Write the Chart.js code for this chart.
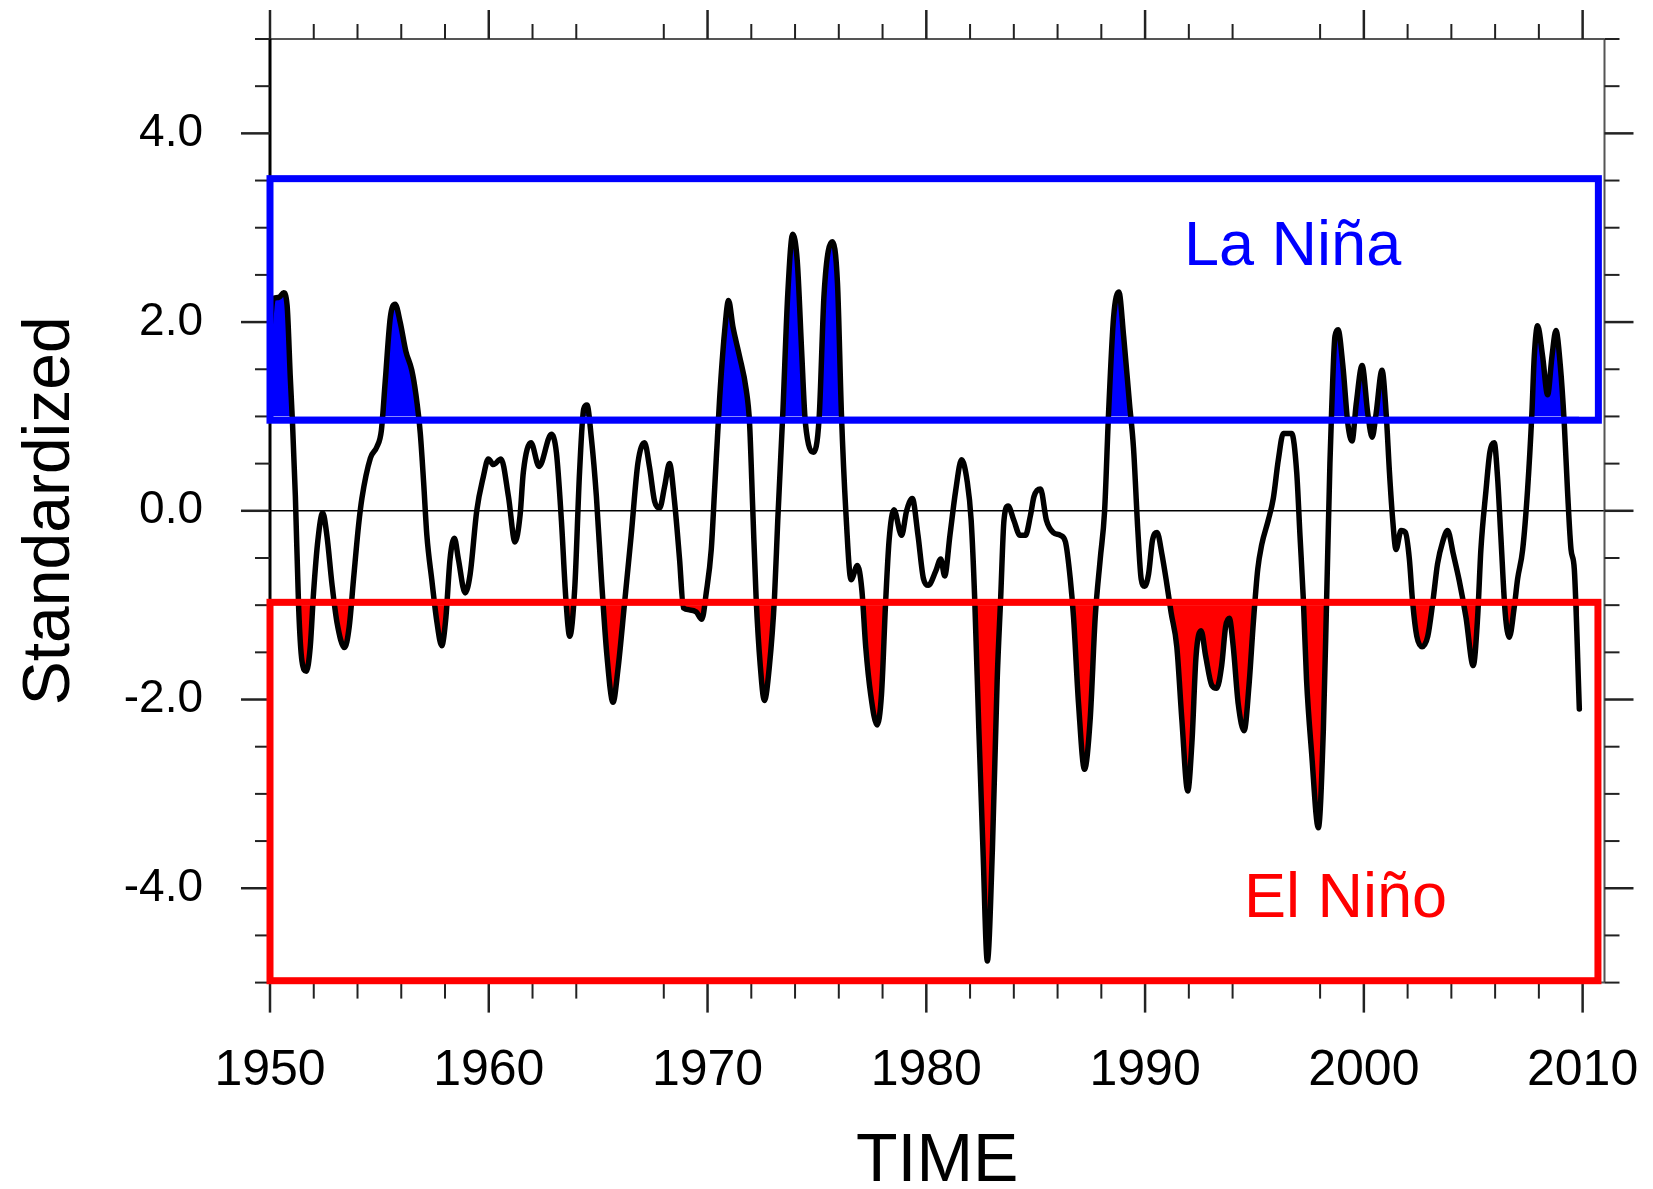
<!DOCTYPE html>
<html>
<head>
<meta charset="utf-8">
<script src="https://cdn.jsdelivr.net/npm/chart.js@4.4.1/dist/chart.umd.min.js"></script>
<style>
html, body { margin: 0; padding: 0; background: #fff; }
</style>
</head>
<body>
<canvas id="myChart" width="1653" height="1189"></canvas>
<script>
// standardized index (year, value)
var years = [
  1950.00, 1950.15, 1950.40, 1950.62, 1950.78, 1950.93, 1951.03, 1951.16, 1951.31, 1951.46,
  1951.66, 1951.84, 1951.99, 1952.19, 1952.41, 1952.60, 1952.83, 1953.06, 1953.41, 1953.62,
  1953.82, 1954.05, 1954.20, 1954.59, 1954.89, 1955.09, 1955.27, 1955.50, 1955.72, 1955.95,
  1956.21, 1956.48, 1956.67, 1956.87, 1957.02, 1957.17, 1957.40, 1957.63, 1957.85, 1958.04,
  1958.23, 1958.43, 1958.61, 1958.92, 1959.15, 1959.45, 1959.75, 1959.98, 1960.21, 1960.56,
  1960.90, 1961.20, 1961.43, 1961.58, 1961.93, 1962.30, 1962.86, 1963.09, 1963.32, 1963.52,
  1963.70, 1963.93, 1964.15, 1964.34, 1964.49, 1964.69, 1964.92, 1965.15, 1965.40, 1965.68,
  1965.90, 1966.21, 1966.51, 1966.82, 1967.12, 1967.35, 1967.58, 1967.81, 1968.04, 1968.26,
  1968.49, 1968.72, 1968.90, 1969.18, 1969.48, 1969.74, 1969.94, 1970.17, 1970.32, 1970.55,
  1970.78, 1970.96, 1971.16, 1971.46, 1971.77, 1971.92, 1972.07, 1972.22, 1972.41, 1972.60,
  1972.83, 1973.06, 1973.21, 1973.44, 1973.67, 1973.89, 1974.10, 1974.30, 1974.45, 1974.62,
  1974.84, 1975.10, 1975.33, 1975.70, 1975.94, 1976.12, 1976.32, 1976.56, 1976.85, 1977.05,
  1977.23, 1977.46, 1977.75, 1977.95, 1978.14, 1978.30, 1978.52, 1978.87, 1979.10, 1979.36,
  1979.62, 1979.87, 1980.09, 1980.43, 1980.66, 1980.84, 1981.08, 1981.34, 1981.61, 1981.87,
  1982.05, 1982.21, 1982.40, 1982.59, 1982.79, 1983.02, 1983.24, 1983.40, 1983.55, 1983.74,
  1984.00, 1984.28, 1984.53, 1984.76, 1984.92, 1985.22, 1985.49, 1985.80, 1986.13, 1986.36,
  1986.58, 1986.73, 1986.96, 1987.23, 1987.49, 1987.72, 1987.95, 1988.15, 1988.33, 1988.56,
  1988.80, 1989.02, 1989.29, 1989.47, 1989.67, 1989.82, 1989.98, 1990.16, 1990.34, 1990.55,
  1990.77, 1990.99, 1991.19, 1991.45, 1991.68, 1991.95, 1992.14, 1992.33, 1992.56, 1992.77,
  1993.05, 1993.27, 1993.50, 1993.68, 1993.85, 1994.03, 1994.26, 1994.53, 1994.75, 1994.95,
  1995.15, 1995.33, 1995.63, 1995.86, 1996.09, 1996.32, 1996.70, 1996.93, 1997.08, 1997.23,
  1997.38, 1997.61, 1997.92, 1998.15, 1998.30, 1998.45, 1998.53, 1998.68, 1998.82, 1999.04,
  1999.27, 1999.46, 1999.65, 1999.92, 2000.18, 2000.38, 2000.56, 2000.83, 2001.02, 2001.17,
  2001.32, 2001.47, 2001.70, 2001.90, 2002.08, 2002.23, 2002.42, 2002.66, 2002.92, 2003.15,
  2003.37, 2003.60, 2003.83, 2004.09, 2004.36, 2004.67, 2005.00, 2005.20, 2005.35, 2005.58,
  2005.76, 2005.96, 2006.11, 2006.26, 2006.46, 2006.65, 2006.87, 2007.03, 2007.26, 2007.48,
  2007.68, 2007.79, 2007.94, 2008.17, 2008.40, 2008.60, 2008.78, 2008.98, 2009.16, 2009.31,
  2009.47, 2009.62, 2009.85
];
var values = [
   1.95,  2.25,  2.26,  2.31,  2.18,  1.40,  0.92,  0.15, -1.03, -1.59,
  -1.70, -1.44, -0.87, -0.31, -0.02, -0.26, -0.77, -1.18, -1.45, -1.23,
  -0.72, -0.15,  0.13,  0.56,  0.68,  0.85,  1.38,  2.05,  2.19,  2.00,
   1.69,  1.49,  1.23,  0.82,  0.31, -0.26, -0.74, -1.18, -1.43, -1.13,
  -0.51, -0.29, -0.51, -0.87, -0.67,  0.00,  0.36,  0.55,  0.49,  0.55,
   0.15, -0.33, -0.05,  0.41,  0.72,  0.47,  0.81,  0.62, -0.10, -0.92,
  -1.33, -0.82,  0.41,  1.08,  1.12,  0.77,  0.15, -0.72, -1.53, -2.03,
  -1.69, -0.97, -0.26,  0.51,  0.72,  0.46,  0.10,  0.03,  0.26,  0.50,
   0.10, -0.51, -1.03, -1.05, -1.07, -1.15, -0.87, -0.41,  0.21,  1.18,
   1.90,  2.23,  1.95,  1.64,  1.28,  0.93,  0.00, -0.92, -1.64, -2.01,
  -1.64, -0.92, -0.10,  1.03,  2.31,  2.93,  2.65,  1.70,  1.00,  0.70,
   0.62,  0.98,  2.31,  2.85,  2.41,  1.03,  0.00, -0.73, -0.58, -0.83,
  -1.44, -1.95, -2.27, -1.95, -0.97, -0.31,  0.01, -0.26,  0.00,  0.13,
  -0.26, -0.72, -0.79, -0.64, -0.51, -0.69, -0.26,  0.21,  0.54,  0.31,
  -0.10, -0.92, -2.31, -3.59, -4.77, -3.59, -1.79, -0.92, -0.10,  0.05,
  -0.10, -0.26, -0.26, -0.05,  0.15,  0.23, -0.10, -0.23, -0.26, -0.33,
  -0.72, -1.13, -2.05, -2.74, -2.21, -1.13, -0.51,  0.00,  1.03,  2.05,
   2.32,  1.85,  1.13,  0.67, -0.21, -0.72, -0.80, -0.67, -0.31, -0.23,
  -0.46, -0.77, -1.08, -1.44, -2.21, -2.97, -2.46, -1.54, -1.27, -1.54,
  -1.85, -1.88, -1.64, -1.23, -1.14, -1.44, -2.05, -2.33, -1.85, -1.18,
  -0.62, -0.36, -0.10,  0.13,  0.54,  0.82,  0.82,  0.41, -0.26, -0.92,
  -1.79, -2.56, -3.36, -2.31, -0.92,  0.51,  1.08,  1.85,  1.92,  1.54,
   0.92,  0.74,  1.13,  1.54,  1.03,  0.78,  1.03,  1.49,  1.03,  0.41,
  -0.10, -0.41, -0.21, -0.23, -0.51, -0.97, -1.33, -1.44, -1.33, -0.97,
  -0.56, -0.33, -0.21, -0.46, -0.74, -1.13, -1.64, -1.13, -0.41,  0.21,
   0.62,  0.72,  0.36, -0.26, -1.08, -1.34, -1.03, -0.72, -0.41,  0.21,
   1.03,  1.64,  1.96,  1.64,  1.23,  1.64,  1.91,  1.54,  0.93,  0.21,
  -0.41, -0.62, -2.10
];

var xMajorTicks = [1950, 1960, 1970, 1980, 1990, 2000, 2010];
var xMinorTicks = [1952, 1954, 1956, 1958, 1962, 1964, 1968, 1972, 1974, 1976, 1978,
                   1982, 1984, 1986, 1988, 1992, 1994, 1998, 2002, 2004, 2006, 2008];
var yMajorTicks = [-4, -2, 0, 2, 4];
var yMinorTicks = [-5, -4.5, -3.5, -3, -2.5, -1.5, -1, -0.5, 0.5, 1, 1.5, 2.5, 3, 3.5, 4.5, 5];

// shading thresholds and the two boxes (x0, x1, y0, y1)
var laNinaLevel = 1.0;
var elNinoLevel = -1.0;
var laNinaBox = [1950, 2010.72, 0.96, 3.52];
var elNinoBox = [1950, 2010.70, -4.98, -0.97];
var labels = [
  { text: 'La Niña', x: 1991.78, y: 2.60, color: '#0000ff' },
  { text: 'El Niño', x: 1994.52, y: -4.30, color: '#ff0000' }
];

var points = years.map(function(yr, i) { return { x: yr, y: values[i] }; });
var FONT = '"Liberation Sans", Arial, Helvetica, sans-serif';

function line(ctx, x1, y1, x2, y2) {
  ctx.beginPath();
  ctx.moveTo(x1, y1);
  ctx.lineTo(x2, y2);
  ctx.stroke();
}

function drawBox(ctx, xs, ys, box, color) {
  var l = xs.getPixelForValue(box[0]), r = xs.getPixelForValue(box[1]);
  var b = ys.getPixelForValue(box[2]), t = ys.getPixelForValue(box[3]);
  ctx.save();
  ctx.strokeStyle = color;
  ctx.lineWidth = 7;
  ctx.lineJoin = 'miter';
  ctx.strokeRect(l, t, r - l, b - t);
  ctx.restore();
}

// keep the scales from reserving room for label overhang
function fixSize(prop, size) {
  return function(s) {
    s[prop] = size;
    s.paddingTop = 0;
    s.paddingBottom = 0;
    s.paddingLeft = 0;
    s.paddingRight = 0;
  };
}

var framePlugin = {
  id: 'frame',
  beforeDatasetsDraw: function(chart) {
    var ctx = chart.ctx, a = chart.chartArea;
    var y0 = chart.scales.y.getPixelForValue(0);
    ctx.save();
    ctx.strokeStyle = '#000';
    ctx.lineWidth = 1.5;
    line(ctx, a.left, y0, a.right, y0);
    ctx.restore();
  },
  afterDatasetsDraw: function(chart) {
    var ctx = chart.ctx, a = chart.chartArea;
    var xs = chart.scales.x, ys = chart.scales.y;
    ctx.save();
    // frame
    ctx.strokeStyle = '#555';
    ctx.lineWidth = 2;
    line(ctx, a.left, a.top, a.right, a.top);
    line(ctx, a.right, a.top, a.right, a.bottom);
    line(ctx, a.left, a.bottom, a.right, a.bottom);
    ctx.strokeStyle = '#000';
    ctx.lineWidth = 3;
    line(ctx, a.left, a.top, a.left, a.bottom);

    // ticks, pointing outward on all four sides
    ctx.strokeStyle = '#222';
    ctx.lineWidth = 2.5;
    xMajorTicks.forEach(function(v) {
      var px = xs.getPixelForValue(v);
      line(ctx, px, a.top, px, a.top - 29);
      line(ctx, px, a.bottom, px, a.bottom + 30);
    });
    yMajorTicks.forEach(function(v) {
      var py = ys.getPixelForValue(v);
      line(ctx, a.left, py, a.left - 29, py);
      line(ctx, a.right, py, a.right + 29, py);
    });
    ctx.lineWidth = 2;
    xMinorTicks.forEach(function(v) {
      var px = xs.getPixelForValue(v);
      line(ctx, px, a.top, px, a.top - 15);
      line(ctx, px, a.bottom, px, a.bottom + 16);
    });
    yMinorTicks.forEach(function(v) {
      var py = ys.getPixelForValue(v);
      line(ctx, a.left, py, a.left - 15, py);
      line(ctx, a.right, py, a.right + 15, py);
    });
    ctx.restore();

    // the two boxes and their labels
    drawBox(ctx, xs, ys, laNinaBox, '#0000ff');
    drawBox(ctx, xs, ys, elNinoBox, '#ff0000');
    ctx.save();
    ctx.font = '63px ' + FONT;
    ctx.textAlign = 'left';
    ctx.textBaseline = 'alphabetic';
    labels.forEach(function(lb) {
      ctx.fillStyle = lb.color;
      ctx.fillText(lb.text, xs.getPixelForValue(lb.x), ys.getPixelForValue(lb.y));
    });
    ctx.restore();
  }
};

var ctx = document.getElementById('myChart').getContext('2d');
var chart = new Chart(ctx, {
  type: 'line',
  data: {
    datasets: [
      {
        label: 'index',
        data: points,
        borderColor: '#000',
        borderWidth: 5.5,
        borderJoinStyle: 'round',
        borderCapStyle: 'round',
        pointRadius: 0,
        cubicInterpolationMode: 'monotone',
        fill: { target: { value: laNinaLevel }, above: '#0000ff', below: 'rgba(0,0,0,0)' }
      },
      {
        label: 'el nino fill',
        data: points,
        borderWidth: 0,
        borderColor: 'rgba(0,0,0,0)',
        pointRadius: 0,
        cubicInterpolationMode: 'monotone',
        fill: { target: { value: elNinoLevel }, above: 'rgba(0,0,0,0)', below: '#ff0000' }
      }
    ]
  },
  options: {
    responsive: false,
    animation: false,
    devicePixelRatio: 1,
    layout: { padding: { top: 39, right: 48.5, left: 0, bottom: 0 } },
    plugins: {
      legend: { display: false },
      tooltip: { enabled: false }
    },
    scales: {
      x: {
        type: 'linear',
        min: 1950,
        max: 2011,
        afterFit: fixSize('height', 206.4),
        afterBuildTicks: function(s) {
          s.ticks = xMajorTicks.map(function(v) { return { value: v }; });
        },
        grid: { display: false, drawTicks: false },
        border: { display: false },
        ticks: {
          padding: 59,
          autoSkip: false,
          maxRotation: 0,
          color: '#000',
          font: { family: FONT, size: 50 },
          callback: function(v) { return String(v); }
        },
        title: {
          display: true,
          text: 'TIME',
          color: '#000',
          font: { family: FONT, size: 68, lineHeight: 0.75 },
          padding: { top: 0, bottom: 1 }
        }
      },
      y: {
        type: 'linear',
        min: -5,
        max: 5,
        afterFit: fixSize('width', 270),
        afterBuildTicks: function(s) {
          s.ticks = yMajorTicks.map(function(v) { return { value: v }; });
        },
        grid: { display: false, drawTicks: false },
        border: { display: false },
        ticks: {
          padding: 67,
          color: '#000',
          font: { family: FONT, size: 46 },
          callback: function(v) { return v.toFixed(1); }
        },
        title: {
          display: true,
          text: 'Standardized',
          color: '#000',
          font: { family: FONT, size: 66, lineHeight: 1.2 },
          padding: { top: 11, bottom: 0 }
        }
      }
    }
  },
  plugins: [framePlugin]
});
</script>
</body>
</html>
